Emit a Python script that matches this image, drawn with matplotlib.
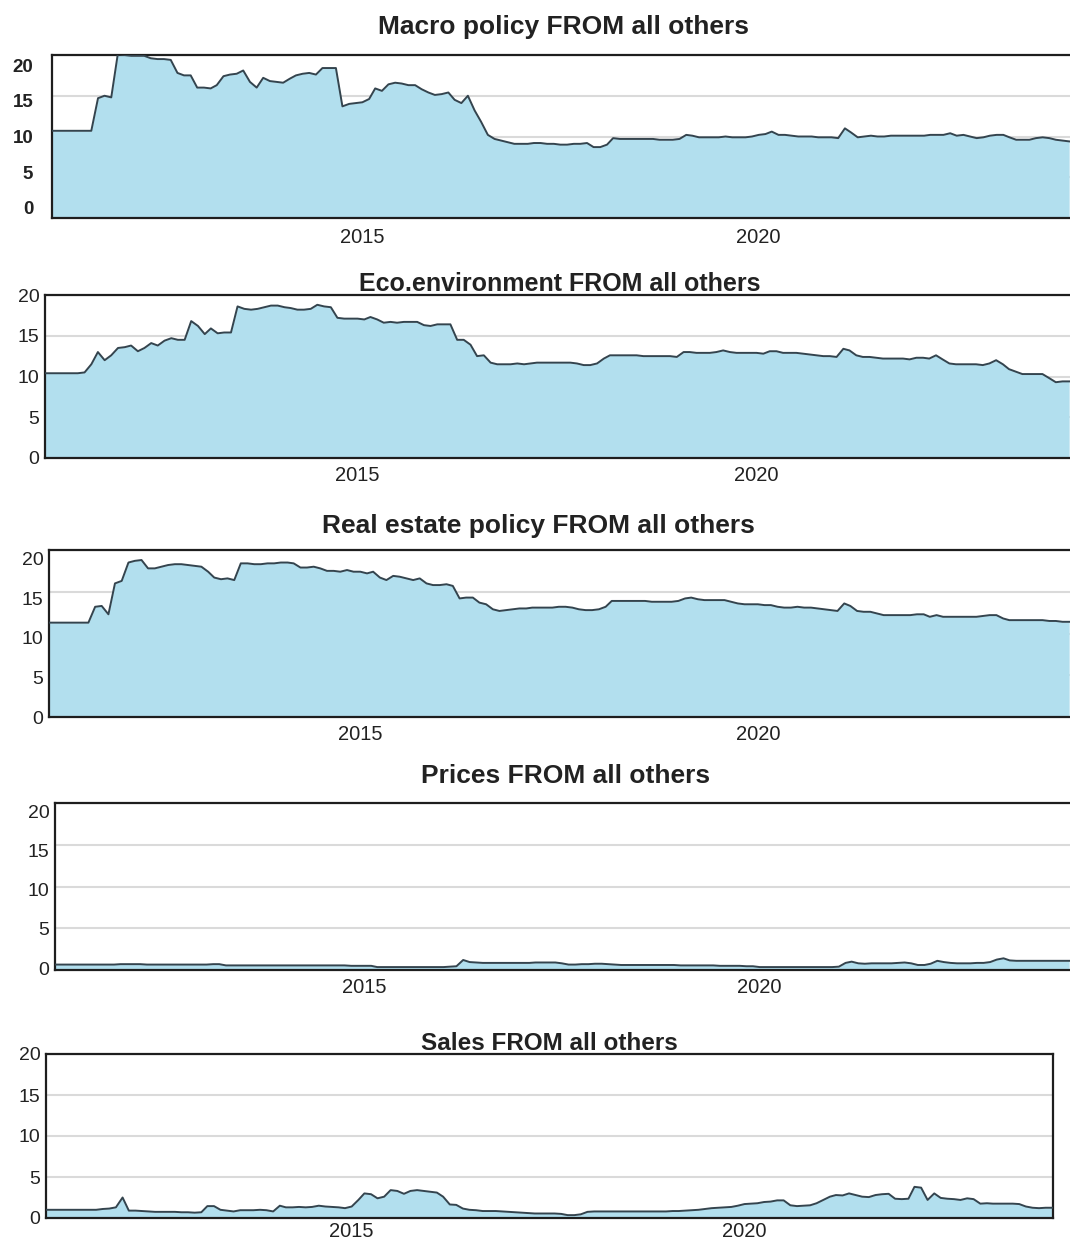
import matplotlib
matplotlib.use("Agg")
import matplotlib.pyplot as plt
import pandas as pd

plt.rcParams["font.family"] = ["Liberation Sans", "DejaVu Sans"]

# monthly spillover index, Feb 2011 .. Dec 2023
MONTHS = pd.date_range("2011-02-01", "2023-12-01", freq="MS")

MACRO = [
    10.7, 10.7, 10.7, 10.7, 10.7, 10.7, 10.7, 14.7, 15.0, 14.8,
    20.1, 20.0, 19.9, 19.9, 19.9, 19.6, 19.5, 19.5, 19.4, 17.8,
    17.5, 17.5, 16.0, 16.0, 15.9, 16.3, 17.4, 17.6, 17.7, 18.1,
    16.7, 16.0, 17.2, 16.8, 16.7, 16.6, 17.1, 17.5, 17.7, 17.8,
    17.6, 18.4, 18.4, 18.4, 13.7, 14.0, 14.1, 14.2, 14.6, 15.9,
    15.6, 16.4, 16.6, 16.5, 16.3, 16.3, 15.8, 15.4, 15.1, 15.2,
    15.4, 14.5, 14.1, 15.0, 13.2, 11.8, 10.2, 9.7, 9.5, 9.3,
    9.1, 9.1, 9.1, 9.2, 9.2, 9.1, 9.1, 9.0, 9.0, 9.1,
    9.1, 9.2, 8.7, 8.7, 9.0, 9.8, 9.7, 9.7, 9.7, 9.7,
    9.7, 9.7, 9.6, 9.6, 9.6, 9.7, 10.2, 10.1, 9.9, 9.9,
    9.9, 9.9, 10.0, 9.9, 9.9, 9.9, 10.0, 10.2, 10.3, 10.6,
    10.2, 10.2, 10.1, 10.0, 10.0, 10.0, 9.9, 9.9, 9.9, 9.8,
    11.0, 10.5, 9.9, 10.0, 10.1, 10.0, 10.0, 10.1, 10.1, 10.1,
    10.1, 10.1, 10.1, 10.2, 10.2, 10.2, 10.4, 10.1, 10.2, 10.0,
    9.8, 9.9, 10.1, 10.2, 10.2, 9.9, 9.6, 9.6, 9.6, 9.8,
    9.9, 9.8, 9.6, 9.5, 9.4,
]

ECO = [
    10.4, 10.4, 10.4, 10.4, 10.4, 10.4, 10.5, 11.5, 13.0, 12.0,
    12.6, 13.5, 13.6, 13.8, 13.1, 13.5, 14.1, 13.8, 14.4, 14.7,
    14.5, 14.5, 16.8, 16.2, 15.2, 15.9, 15.3, 15.4, 15.4, 18.6,
    18.3, 18.2, 18.3, 18.5, 18.7, 18.7, 18.5, 18.4, 18.2, 18.2,
    18.3, 18.8, 18.6, 18.5, 17.2, 17.1, 17.1, 17.1, 17.0, 17.3,
    17.0, 16.6, 16.7, 16.6, 16.7, 16.7, 16.7, 16.3, 16.2, 16.4,
    16.4, 16.4, 14.5, 14.5, 13.9, 12.5, 12.6, 11.7, 11.5, 11.5,
    11.5, 11.6, 11.5, 11.6, 11.7, 11.7, 11.7, 11.7, 11.7, 11.7,
    11.6, 11.4, 11.4, 11.6, 12.2, 12.6, 12.6, 12.6, 12.6, 12.6,
    12.5, 12.5, 12.5, 12.5, 12.5, 12.4, 13.0, 13.0, 12.9, 12.9,
    12.9, 13.0, 13.2, 13.0, 12.9, 12.9, 12.9, 12.9, 12.8, 13.1,
    13.1, 12.9, 12.9, 12.9, 12.8, 12.7, 12.6, 12.5, 12.5, 12.4,
    13.4, 13.2, 12.6, 12.4, 12.4, 12.3, 12.2, 12.2, 12.2, 12.2,
    12.1, 12.3, 12.3, 12.2, 12.6, 12.1, 11.6, 11.5, 11.5, 11.5,
    11.5, 11.4, 11.6, 12.0, 11.5, 10.9, 10.6, 10.3, 10.3, 10.3,
    10.3, 9.8, 9.3, 9.4, 9.4,
]

REAL_ESTATE = [
    11.3, 11.3, 11.3, 11.3, 11.3, 11.3, 11.3, 13.2, 13.3, 12.3,
    16.0, 16.3, 18.5, 18.7, 18.8, 17.8, 17.8, 18.0, 18.2, 18.3,
    18.3, 18.2, 18.1, 18.0, 17.4, 16.7, 16.5, 16.6, 16.4, 18.4,
    18.4, 18.3, 18.3, 18.4, 18.4, 18.5, 18.5, 18.4, 17.9, 17.9,
    18.0, 17.8, 17.5, 17.5, 17.4, 17.6, 17.4, 17.4, 17.2, 17.4,
    16.7, 16.4, 16.9, 16.8, 16.6, 16.4, 16.6, 16.0, 15.8, 15.8,
    15.9, 15.7, 14.2, 14.3, 14.3, 13.7, 13.5, 12.9, 12.7, 12.8,
    12.9, 13.0, 13.0, 13.1, 13.1, 13.1, 13.1, 13.2, 13.2, 13.1,
    12.9, 12.8, 12.8, 12.9, 13.2, 13.9, 13.9, 13.9, 13.9, 13.9,
    13.9, 13.8, 13.8, 13.8, 13.8, 13.9, 14.2, 14.3, 14.1, 14.0,
    14.0, 14.0, 14.0, 13.8, 13.6, 13.5, 13.5, 13.5, 13.4, 13.4,
    13.2, 13.1, 13.1, 13.2, 13.1, 13.1, 13.0, 12.9, 12.8, 12.7,
    13.6, 13.3, 12.7, 12.6, 12.6, 12.4, 12.2, 12.2, 12.2, 12.2,
    12.2, 12.3, 12.3, 12.0, 12.2, 12.0, 12.0, 12.0, 12.0, 12.0,
    12.0, 12.1, 12.2, 12.2, 11.8, 11.6, 11.6, 11.6, 11.6, 11.6,
    11.6, 11.5, 11.5, 11.4, 11.4,
]

PRICES = [
    0.65, 0.65, 0.65, 0.65, 0.65, 0.65, 0.65, 0.65, 0.65, 0.65,
    0.7, 0.7, 0.7, 0.7, 0.65, 0.65, 0.65, 0.65, 0.65, 0.65,
    0.65, 0.65, 0.65, 0.65, 0.7, 0.7, 0.55, 0.55, 0.55, 0.55,
    0.55, 0.55, 0.55, 0.55, 0.55, 0.55, 0.55, 0.55, 0.55, 0.55,
    0.55, 0.55, 0.55, 0.55, 0.55, 0.5, 0.5, 0.5, 0.5, 0.35,
    0.35, 0.35, 0.35, 0.35, 0.35, 0.35, 0.35, 0.35, 0.35, 0.35,
    0.4, 0.45, 1.2, 0.95, 0.9, 0.85, 0.85, 0.85, 0.85, 0.85,
    0.85, 0.85, 0.85, 0.9, 0.9, 0.9, 0.9, 0.8, 0.65, 0.65,
    0.7, 0.7, 0.75, 0.75, 0.7, 0.65, 0.6, 0.6, 0.6, 0.6,
    0.6, 0.6, 0.6, 0.6, 0.6, 0.55, 0.55, 0.55, 0.55, 0.55,
    0.55, 0.5, 0.5, 0.5, 0.5, 0.45, 0.45, 0.35, 0.35, 0.35,
    0.35, 0.35, 0.35, 0.35, 0.35, 0.35, 0.35, 0.35, 0.35, 0.4,
    0.85, 1.0, 0.8, 0.75, 0.8, 0.8, 0.8, 0.8, 0.85, 0.9,
    0.8, 0.6, 0.6, 0.75, 1.1, 0.95, 0.85, 0.8, 0.8, 0.8,
    0.85, 0.85, 0.95, 1.25, 1.4, 1.15, 1.1, 1.1, 1.1, 1.1,
    1.1, 1.1, 1.1, 1.1, 1.1,
]

SALES = [
    1.0, 1.0, 1.0, 1.0, 1.0, 1.0, 1.0, 1.0, 1.0, 1.1,
    1.15, 1.3, 2.5, 0.9, 0.9, 0.85, 0.8, 0.75, 0.75, 0.75,
    0.75, 0.7, 0.7, 0.65, 0.7, 1.45, 1.45, 1.0, 0.9, 0.8,
    0.95, 0.95, 0.95, 1.0, 0.95, 0.8, 1.5, 1.3, 1.3, 1.35,
    1.3, 1.35, 1.5, 1.4, 1.35, 1.3, 1.2, 1.4, 2.2, 3.0,
    2.9, 2.4, 2.6, 3.4, 3.3, 2.95, 3.3, 3.4, 3.3, 3.2,
    3.1, 2.6, 1.65, 1.6, 1.15, 1.0, 0.95, 0.85, 0.85, 0.85,
    0.8, 0.75, 0.7, 0.65, 0.6, 0.55, 0.55, 0.55, 0.55, 0.5,
    0.35, 0.35, 0.45, 0.75, 0.8, 0.8, 0.8, 0.8, 0.8, 0.8,
    0.8, 0.8, 0.8, 0.8, 0.8, 0.8, 0.85, 0.85, 0.9, 0.95,
    1.0, 1.1, 1.2, 1.25, 1.3, 1.35, 1.5, 1.7, 1.75, 1.8,
    1.95, 2.0, 2.15, 2.15, 1.55, 1.45, 1.5, 1.55, 1.8, 2.2,
    2.6, 2.8, 2.75, 3.0, 2.8, 2.6, 2.55, 2.8, 2.9, 2.95,
    2.35, 2.3, 2.35, 3.8, 3.7, 2.2, 3.0, 2.45, 2.35, 2.3,
    2.2, 2.4, 2.3, 1.75, 1.8, 1.75, 1.75, 1.75, 1.75, 1.7,
    1.4, 1.25, 1.2, 1.25, 1.25,
]

TITLES = [
    "Macro policy FROM all others",
    "Eco.environment FROM all others",
    "Real estate policy FROM all others",
    "Prices FROM all others",
    "Sales FROM all others",
]
YEAR_TICKS = ["2015", "2020"]
Y_TICKS = [0, 5, 10, 15, 20]

FILL = "#b2dfee"
EDGE = "#34444e"
TEXT = "#222222"
W, H = 1070, 1243

# layout in pixels: axes box (left, top, right, bottom), title centre, title size.
# label_lim: the pasted-together source panels print their y labels on a slightly
# different scale than the gridlines, so those labels get their own axis range.
PANELS = [
    dict(series=MACRO, box=(52, 55, 1070, 218), title_xy=(563, 27), tsize=19,
         bold=True, right=False, x0="2011-02-01", label_lim=(-1.4, 21.4),
         ypad=13.5, ysize=13.5, xpad=7),
    dict(series=ECO, box=(45, 295, 1070, 458), title_xy=(560, 284), tsize=18,
         bold=False, right=False, x0="2011-02-01", label_lim=None,
         ypad=4, ysize=14, xpad=6),
    dict(series=REAL_ESTATE, box=(49, 550, 1070, 717), title_xy=(538, 526), tsize=19,
         bold=False, right=False, x0="2011-02-01", label_lim=(0.1, 21.1),
         ypad=4, ysize=14, xpad=6),
    dict(series=PRICES, box=(55, 803, 1070, 970), title_xy=(566, 776), tsize=19,
         bold=False, right=False, x0="2011-02-01", label_lim=(-0.25, 21.1),
         ypad=4, ysize=14, xpad=6),
    dict(series=SALES, box=(46, 1054, 1053, 1218), title_xy=(549, 1043), tsize=17.5,
         bold=False, right=True, x0="2011-02-10", label_lim=None,
         ypad=4, ysize=14, xpad=3),
]

fig = plt.figure(figsize=(W / 100, H / 100), dpi=100)

for title, p in zip(TITLES, PANELS):
    left, top, right, bottom = p["box"]
    ax = fig.add_axes([left / W, 1 - bottom / H, (right - left) / W, (bottom - top) / H])
    ax.fill_between(MONTHS, p["series"], 0, color=FILL, lw=0, zorder=2)
    ax.plot(MONTHS, p["series"], color=EDGE, lw=1.4, zorder=3)

    ax.set_xlim(pd.Timestamp(p["x0"]), pd.Timestamp("2023-12-05"))
    ax.set_ylim(0, 20)
    ax.set_yticks(Y_TICKS)
    ax.set_xticks([pd.Timestamp(f"{y}-01-01") for y in YEAR_TICKS])
    ax.set_xticklabels(YEAR_TICKS)
    ax.yaxis.grid(True, color="#dadada", lw=1.5, zorder=0)
    ax.set_axisbelow(True)
    ax.tick_params(length=0, colors=TEXT)
    ax.tick_params(axis="x", pad=p["xpad"], labelsize=14.5)
    ax.tick_params(axis="y", pad=p["ypad"], labelsize=p["ysize"])

    label_ax = ax
    if p["label_lim"] is not None:
        label_ax = ax.twinx()
        label_ax.set_ylim(*p["label_lim"])
        label_ax.yaxis.tick_left()
        label_ax.set_yticks(Y_TICKS)
        label_ax.tick_params(length=0, colors=TEXT, pad=p["ypad"], labelsize=p["ysize"])
        for spine in label_ax.spines.values():
            spine.set_visible(False)
        ax.tick_params(axis="y", labelleft=False)
    if p["bold"]:
        for lab in label_ax.get_yticklabels():
            lab.set_fontweight("bold")

    for side in ("left", "bottom", "top", "right"):
        ax.spines[side].set_color("#1e1e1e")
        ax.spines[side].set_linewidth(1.6)
    ax.spines["right"].set_visible(p["right"])

    tx, ty = p["title_xy"]
    fig.text(tx / W, 1 - ty / H, title, ha="center", va="center",
             fontsize=p["tsize"], fontweight="bold", color=TEXT)

fig.savefig("out.png", dpi=100)
